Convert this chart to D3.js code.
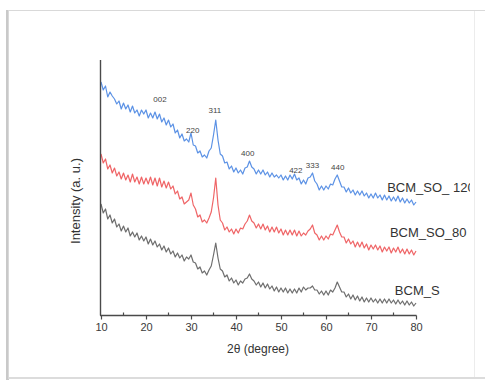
<!DOCTYPE html>
<html>
<head>
<meta charset="utf-8">
<script src="https://cdn.jsdelivr.net/npm/d3@7"></script>
<style>
  html, body { margin: 0; padding: 0; background: #fff; }
  svg { display: block; font-family: "Liberation Sans", Arial, sans-serif; }
</style>
</head>
<body>
<svg id="chart" width="485" height="382"></svg>
<script>
// ---- data (2θ grid from 10° to 80° in 0.5° steps) ----
const angleStart = 10, angleEnd = 80, angleStep = 0.5;

const bcmSO120 = [233,225,229,218,223,219,216,211,214,206,212,206,210,203,209,202,205,199,205,201,
  205,197,202,197,203,196,201,193,197,190,195,188,191,182,185,177,181,174,176,173,
  182,170,169,162,164,158,160,157,164,167,180,195,175,161,159,152,153,146,149,143,
  147,142,145,141,147,148,154,148,146,141,145,141,145,140,143,138,142,138,140,137,
  140,135,139,135,140,136,141,135,137,131,135,131,137,138,142,134,131,125,129,125,
  129,126,131,130,136,140,134,128,128,123,127,122,125,120,124,120,124,119,122,117,
  121,117,122,117,120,115,120,115,119,114,118,114,119,113,117,112,116,112,115,110,113];

const bcmSO80 = [161,152,156,146,150,142,147,139,143,136,142,135,140,133,141,133,138,131,138,131,
  137,131,138,130,137,129,137,128,134,127,133,126,129,121,124,116,118,111,113,115,
  122,110,106,98,100,93,95,92,97,103,117,137,110,95,92,85,88,83,86,81,
  86,82,87,86,91,94,100,94,92,87,91,86,91,85,89,83,88,83,88,82,
  86,80,85,80,85,80,85,79,84,79,82,80,84,86,90,82,80,75,79,75,
  79,76,81,80,85,90,83,78,78,72,76,71,74,68,73,68,73,67,71,65,
  70,66,70,65,69,63,68,64,68,62,67,63,68,62,66,61,66,61,65,60,64];

const bcmS = [111,102,106,96,100,92,96,88,91,84,89,83,87,79,83,78,82,75,79,74,
  78,71,76,70,74,68,71,65,69,63,67,61,64,58,62,57,60,54,58,56,
  60,53,52,46,48,42,44,40,45,49,60,72,57,46,44,38,40,34,37,32,
  35,30,34,32,36,37,41,36,34,30,33,28,32,27,31,26,29,24,28,23,
  27,23,27,22,26,22,26,22,27,23,28,25,27,27,29,25,25,21,24,20,
  24,20,25,23,27,33,28,23,23,18,21,16,20,15,19,14,18,13,17,13,
  17,13,16,12,16,12,16,12,16,12,15,11,15,11,14,10,14,10,13,9,12];

const seriesNames = ["BCM_SO_ 120", "BCM_SO_80", "BCM_S"];
const seriesColors = ["#3f7fe0", "#ec4a4c", "#555555"];
const seriesLabelI = [128, 83, 25];      // label vertical anchor (a.u.)
const seriesLabelAngle = [73.6, 74.2, 75.3];

const peakLabels = ["002", "220", "311", "400", "422", "333", "440"];
const peakAngles = [23.1, 30.4, 35.3, 42.6, 53.3, 57.0, 62.6];
const peakLabelI = [216, 185, 205, 162, 145, 150, 148];

const xTicks = [10, 20, 30, 40, 50, 60, 70, 80];
const xMinorTicks = [15, 25, 35, 45, 55, 65, 75];

// ---- drawing ----
const svg = d3.select("#chart");

// frame like an embedded figure
svg.append("rect").attr("x", 0).attr("y", 0).attr("width", 485).attr("height", 382).attr("fill", "#fff");
svg.append("rect").attr("x", 6).attr("y", 10).attr("width", 3).attr("height", 370).attr("fill", "#c9c9c9");
svg.append("rect").attr("x", 8.5).attr("y", 10.5).attr("width", 490).attr("height", 368)
  .attr("fill", "#fff").attr("stroke", "#d9d9d9").attr("stroke-width", 1);
svg.append("rect").attr("x", 9).attr("y", 377).attr("width", 480).attr("height", 2).attr("fill", "#dcdcdc");
svg.append("line").attr("x1", 474.5).attr("x2", 474.5).attr("y1", 11).attr("y2", 377)
  .attr("stroke", "#ececec");

const x = d3.scaleLinear().domain([10, 80]).range([101, 416]);
const y = d3.scaleLinear().domain([0, 255]).range([315, 60]);

const angles = d3.range(angleStart, angleEnd + angleStep / 2, angleStep);
const allSeries = [bcmSO120, bcmSO80, bcmS];

const line = d3.line().x(d => x(d[0])).y(d => y(d[1]));
allSeries.forEach((vals, i) => {
  const pts = vals.map((v, k) => [angles[k], v]);
  svg.append("path").datum(pts)
    .attr("fill", "none")
    .attr("stroke", seriesColors[i])
    .attr("stroke-width", 1.2)
    .attr("stroke-opacity", 0.85)
    .attr("stroke-linejoin", "round")
    .attr("d", line);
});

// axes
const axisColor = "#4a4a4a";
svg.append("line").attr("x1", 100.5).attr("x2", 100.5).attr("y1", 60).attr("y2", 315.5)
  .attr("stroke", axisColor).attr("stroke-width", 1.4);

const xAxis = svg.append("g").attr("transform", "translate(0,315.5)")
  .call(d3.axisBottom(x).tickValues(xTicks).tickSize(4).tickPadding(4).tickFormat(d3.format("d")));
xAxis.select(".domain").attr("stroke", axisColor).attr("stroke-width", 1.4).attr("d", "M100,0H416.5");
xAxis.selectAll(".tick line").attr("stroke", axisColor).attr("stroke-width", 1.2);
xAxis.selectAll(".tick text").attr("fill", "#3a3a3a").attr("font-size", 11)
  .attr("font-family", "Liberation Sans, Arial, sans-serif");

svg.append("g").selectAll("line").data(xMinorTicks).join("line")
  .attr("x1", d => x(d)).attr("x2", d => x(d))
  .attr("y1", 315.5).attr("y2", 312.5)
  .attr("stroke", axisColor).attr("stroke-width", 1.2);

// axis titles
svg.append("text").attr("x", 258).attr("y", 353).attr("text-anchor", "middle")
  .attr("font-size", 12).attr("fill", "#333").text("2θ (degree)");
svg.append("text").attr("transform", "translate(80,201) rotate(-90)")
  .attr("text-anchor", "middle").attr("font-size", 13).attr("fill", "#333")
  .text("Intensity (a. u.)");

// peak labels
svg.append("g").selectAll("text").data(peakLabels).join("text")
  .attr("x", (d, i) => x(peakAngles[i]))
  .attr("y", (d, i) => y(peakLabelI[i]))
  .attr("dy", "0.35em")
  .attr("text-anchor", "middle")
  .attr("font-size", 8)
  .attr("fill", "#444")
  .text(d => d);

// series labels (clipped at the figure's right edge)
svg.append("clipPath").attr("id", "clipR").append("rect")
  .attr("x", 0).attr("y", 0).attr("width", 470).attr("height", 382);
svg.append("g").attr("clip-path", "url(#clipR)")
  .selectAll("text").data(seriesNames).join("text")
  .attr("x", (d, i) => x(seriesLabelAngle[i]))
  .attr("y", (d, i) => y(seriesLabelI[i]))
  .attr("dy", "0.35em")
  .attr("font-size", 13)
  .attr("fill", "#333")
  .text(d => d);
</script>
</body>
</html>
